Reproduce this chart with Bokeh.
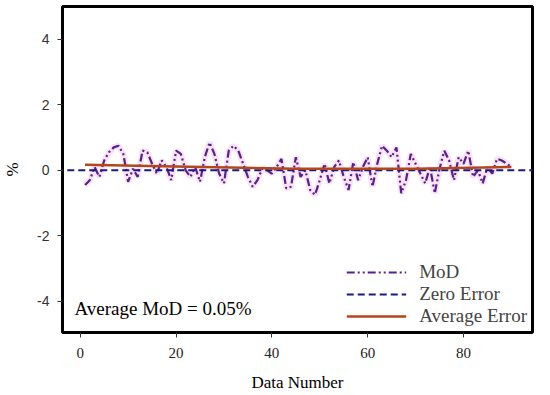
from bokeh.plotting import figure
from bokeh.models import Range1d, Legend, LegendItem, Label, FixedTicker
from bokeh.embed import file_html
from bokeh.resources import INLINE

data_number = list(range(1, 91))
mod = [-0.45, -0.3, 0.1, -0.2, 0.3, 0.55, 0.7, 0.75, 0.5, -0.35,
       0.05, -0.2, 0.6, 0.55, 0.2, -0.1, 0.3, 0.1, -0.3, 0.6,
       0.5, 0.0, -0.2, 0.1, -0.35, 0.4, 0.85, 0.5, -0.1, -0.4,
       0.6, 0.75, 0.6, 0.2, -0.2, -0.5, -0.3, 0.05, 0.0, -0.1,
       0.1, 0.35, -0.55, -0.5, 0.4, -0.2, 0.0, -0.6, -0.75, -0.3,
       0.2, -0.4, 0.1, 0.3, -0.2, -0.6, 0.25, -0.3, 0.1, 0.4,
       -0.5, 0.2, 0.75, 0.6, 0.4, 0.7, -0.7, -0.3, 0.5, 0.2,
       -0.1, -0.4, 0.1, -0.7, 0.05, 0.6, 0.3, -0.3, 0.4, 0.2,
       0.6, -0.2, 0.0, -0.4, 0.1, -0.1, 0.35, 0.3, 0.2, 0.1]
zero_x = [-5, 95]
zero_y = [0, 0]
avg_x = [1, 20, 45, 70, 90]
avg_y = [0.17, 0.12, 0.05, 0.05, 0.1]
x_ticks = [0, 20, 40, 60, 80]
y_ticks = [-4, -2, 0, 2, 4]
y_tick_labels = {-4: "-4", -2: "-2", 0: "0", 2: "2", 4: "4"}

p = figure(width=534, height=394, output_backend="svg", toolbar_location=None,
           x_range=Range1d(-3.7, 94.4), y_range=Range1d(-4.95, 5.0),
           min_border_left=60, min_border_right=2, min_border_top=6, min_border_bottom=0)
p.grid.visible = False
p.outline_line_color = "black"
p.outline_line_width = 3

serif = "Liberation Serif"
sans = "Liberation Sans"

p.xaxis.ticker = FixedTicker(ticks=x_ticks)
p.yaxis.ticker = FixedTicker(ticks=y_ticks)
p.yaxis.major_label_overrides = y_tick_labels
for ax in (p.xaxis[0], p.yaxis[0]):
    ax.axis_line_color = None
    ax.minor_tick_line_color = None
    ax.major_tick_in = 0
    ax.major_tick_out = 5
    ax.major_tick_line_color = "#333333"
    ax.axis_label_text_font_style = "normal"
    ax.axis_label_text_color = "black"
p.xaxis.major_label_text_font = serif
p.xaxis.major_label_text_font_size = "15px"
p.xaxis.major_label_text_color = "#222222"
p.xaxis.major_label_standoff = 10
p.yaxis.major_label_text_font = sans
p.yaxis.major_label_text_font_size = "14px"
p.yaxis.major_label_text_color = "#333333"
p.yaxis.major_label_standoff = 8
p.xaxis.axis_label = "Data Number"
p.xaxis.axis_label_text_font = serif
p.xaxis.axis_label_text_font_size = "17px"
p.xaxis.axis_label_standoff = 12
p.yaxis.axis_label = "%"
p.yaxis.axis_label_text_font = serif
p.yaxis.axis_label_text_font_size = "17px"
p.yaxis.axis_label_standoff = 12

# faint halo
p.line(data_number, mod, line_color="#f7c8ef", line_width=6, line_alpha=0.5)
r_mod = p.line(data_number, mod, line_color="#55208f", line_width=2.2, line_dash="8 3 2 3 2 3")
r_zero = p.line(zero_x, zero_y, line_color="#1a1a80", line_width=2, line_dash="7 4")
r_avg = p.line(avg_x, avg_y, line_color="#b3471b", line_width=2.5)

legend = Legend(items=[LegendItem(label="MoD", renderers=[r_mod]),
                       LegendItem(label="Zero Error", renderers=[r_zero]),
                       LegendItem(label="Average Error", renderers=[r_avg])],
                location="bottom_right", background_fill_alpha=0, border_line_color=None,
                label_text_font=serif, label_text_font_size="19px", glyph_width=60,
                label_standoff=13, spacing=0, margin=5, padding=6)
p.add_layout(legend)

p.add_layout(Label(x=-1.2, y=-4.22, text="Average MoD = 0.05%", text_font=serif,
                   text_font_size="19px", text_baseline="middle", text_color="black"))

open("out.html", "w").write(file_html(p, INLINE))
